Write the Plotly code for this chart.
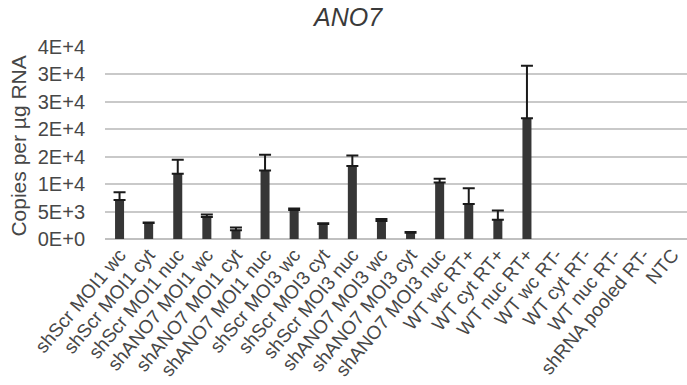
import plotly.graph_objects as go

categories = [
    "shScr MOI1 wc", "shScr MOI1 cyt", "shScr MOI1 nuc",
    "shANO7 MOI1 wc", "shANO7 MOI1 cyt", "shANO7 MOI1 nuc",
    "shScr MOI3 wc", "shScr MOI3 cyt", "shScr MOI3 nuc",
    "shANO7 MOI3 wc", "shANO7 MOI3 cyt", "shANO7 MOI3 nuc",
    "WT wc RT+", "WT cyt RT+", "WT nuc RT+",
    "WT wc RT-", "WT cyt RT-", "WT nuc RT-",
    "shRNA pooled RT-", "NTC",
]
values = [7100, 2900, 11900, 4000, 1600, 12500, 5300, 2750, 13300, 3300,
          1150, 10300, 6400, 3500, 22000, 0, 0, 0, 0, 0]
errors_plus = [1400, 120, 2550, 450, 480, 2850, 250, 120, 1900, 350,
               130, 700, 2850, 1700, 9600, 0, 0, 0, 0, 0]
y_tickvals = [0, 5000, 10000, 15000, 20000, 25000, 30000, 35000]
y_ticktext = ["0E+0", "5E+3", "1E+4", "2E+4", "2E+4", "3E+4", "3E+4", "4E+4"]

W, H = 687, 385
L, R, T, B = 105, 0, 47, 146
FONT = "Liberation Sans, Arial, sans-serif"
TXT = "#474747"

yplot = [v if v > 0 else None for v in values]

fig = go.Figure(go.Bar(
    x=categories, y=yplot,
    marker=dict(color="#363636", line=dict(width=0)),
    error_y=dict(type="data", symmetric=False, array=errors_plus,
                 arrayminus=[0] * len(errors_plus),
                 color="#1a1a1a", thickness=2, width=6),
))

fig.update_layout(
    width=W, height=H,
    margin=dict(l=L, r=R, t=T, b=B, pad=0),
    paper_bgcolor="white", plot_bgcolor="white",
    bargap=0.69, showlegend=False,
    font=dict(family=FONT, color=TXT, size=19),
    title=dict(text="<i>ANO7</i>", x=348 / W, xanchor="center",
               y=1 - 17 / H, yanchor="middle", xref="container", yref="container",
               font=dict(family=FONT, size=25, color="#3a3a3a")),
)
fig.update_xaxes(
    tickangle=-50, tickfont=dict(size=19, color=TXT), automargin=False,
    showgrid=False, showline=False, ticks="", zeroline=False,
)
fig.update_yaxes(
    range=[0, 35000], tickvals=y_tickvals, ticktext=y_ticktext,
    tickfont=dict(size=20, color=TXT), automargin=False,
    showgrid=True, gridcolor="#c9c9c9", gridwidth=1.5,
    zeroline=True, zerolinecolor="#c0c0c0", zerolinewidth=1.5,
    showline=False, ticks="outside", ticklen=15, tickcolor="rgba(0,0,0,0)",
)
fig.add_annotation(
    text="Copies per µg RNA", textangle=-90,
    xref="paper", yref="paper", x=(18.5 - L) / (W - L - R), y=0.484,
    xanchor="center", yanchor="middle", showarrow=False,
    font=dict(family=FONT, size=21, color=TXT),
)

fig.write_html("out.html")
